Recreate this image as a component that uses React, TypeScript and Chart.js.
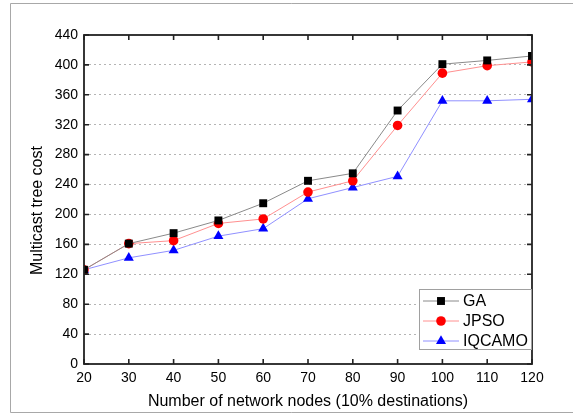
import React, { useEffect, useRef } from "react";
import { Chart, registerables } from "chart.js";

Chart.register(...registerables);

const categories = [20, 30, 40, 50, 60, 70, 80, 90, 100, 110, 120];
const gaValues = [126, 161, 175, 192, 215, 245, 255, 339, 401, 406, 412];
const jpsoValues = [126, 161, 165, 188, 194, 230, 245, 319, 389, 399, 404];
const iqcamoValues = [126, 142, 152, 171, 181, 221, 236, 251, 352, 352, 354];
const yTicks = [0, 40, 80, 120, 160, 200, 240, 280, 320, 360, 400, 440];
const seriesNames = ["GA", "JPSO", "IQCAMO"];
const yTitle = "Multicast tree cost";
const xTitle = "Number of network nodes (10% destinations)";

const FONT = "'Liberation Sans', Arial, sans-serif";

const framePlugin = {
  id: "framePlugin",
  beforeDraw(chart: any) {
    const ctx = chart.ctx;
    ctx.save();
    ctx.fillStyle = "#ffffff";
    ctx.fillRect(0, 0, chart.width, chart.height);
    ctx.strokeStyle = "#a8a8a8";
    ctx.lineWidth = 1;
    ctx.beginPath();
    ctx.moveTo(chart.width, 3.5);
    ctx.lineTo(10.5, 3.5);
    ctx.lineTo(10.5, 412.5);
    ctx.lineTo(chart.width, 412.5);
    ctx.stroke();
    // y axis title
    const { top, bottom } = chart.chartArea;
    ctx.translate(38, (top + bottom) / 2 + 11);
    ctx.rotate(-Math.PI / 2);
    ctx.fillStyle = "#000000";
    ctx.font = `16px ${FONT}`;
    ctx.textAlign = "center";
    ctx.textBaseline = "middle";
    ctx.fillText(yTitle, 0, 0);
    ctx.restore();
  },
  afterDatasetsDraw(chart: any) {
    const ctx = chart.ctx;
    const { left, right, top, bottom } = chart.chartArea;
    const xs = chart.scales.x;
    const ys = chart.scales.y;
    ctx.save();
    ctx.strokeStyle = "#222222";
    ctx.lineWidth = 1.6;
    const tl = 5;
    ctx.beginPath();
    xs.ticks.forEach((t: any) => {
      const px = xs.getPixelForValue(t.value);
      ctx.moveTo(px, bottom);
      ctx.lineTo(px, bottom - tl);
      ctx.moveTo(px, top);
      ctx.lineTo(px, top + tl);
    });
    ys.ticks.forEach((t: any) => {
      const py = ys.getPixelForValue(t.value);
      ctx.moveTo(left, py);
      ctx.lineTo(left + tl, py);
      ctx.moveTo(right, py);
      ctx.lineTo(right - tl, py);
    });
    ctx.stroke();
    ctx.lineWidth = 1.8;
    ctx.strokeRect(left, top, right - left, bottom - top);

    // legend
    const bx = right - 113;
    const by = bottom - 75;
    const bw = 113;
    const bh = 61;
    ctx.fillStyle = "#ffffff";
    ctx.fillRect(bx, by, bw, bh);
    ctx.strokeStyle = "#a0a0a0";
    ctx.lineWidth = 1;
    ctx.strokeRect(bx + 0.5, by + 0.5, bw - 1, bh - 1);
    chart.data.datasets.forEach((ds: any, i: number) => {
      const cy = by + 12 + i * 20;
      ctx.strokeStyle = ds.borderColor;
      ctx.lineWidth = 1;
      ctx.beginPath();
      ctx.moveTo(bx + 4, cy);
      ctx.lineTo(bx + 40, cy);
      ctx.stroke();
      ctx.fillStyle = ds.pointBackgroundColor;
      const st = ds.pointStyle;
      const r = ds.pointRadius;
      ctx.beginPath();
      if (st === "rect") {
        const s = Math.SQRT1_2 * r;
        ctx.rect(bx + 22 - s, cy - s, 2 * s, 2 * s);
      } else if (st === "circle") {
        ctx.arc(bx + 22, cy, r, 0, Math.PI * 2);
      } else {
        const w = r * Math.sin((2 * Math.PI) / 3);
        ctx.moveTo(bx + 22, cy - r);
        ctx.lineTo(bx + 22 + w, cy + r / 2);
        ctx.lineTo(bx + 22 - w, cy + r / 2);
        ctx.closePath();
      }
      ctx.fill();
      ctx.fillStyle = "#000000";
      ctx.font = `16px ${FONT}`;
      ctx.textBaseline = "middle";
      ctx.textAlign = "left";
      ctx.fillText(ds.label, bx + 44, cy + 1);
    });
    ctx.restore();
  },
};

export default function App() {
  const ref = useRef<HTMLCanvasElement | null>(null);
  useEffect(() => {
    if (!ref.current) return;
    const mk = (vals: number[]) => vals.map((v, i) => ({ x: categories[i], y: v }));
    const chart = new Chart(ref.current, {
      type: "line",
      data: {
        datasets: [
          {
            label: seriesNames[0],
            data: mk(gaValues),
            borderColor: "#8a8a8a",
            borderWidth: 1,
            pointStyle: "rect",
            pointRadius: 5.6,
            pointBackgroundColor: "#000000",
            pointBorderColor: "#000000",
            pointBorderWidth: 0,
          },
          {
            label: seriesNames[1],
            data: mk(jpsoValues),
            borderColor: "#ff9090",
            borderWidth: 1,
            pointStyle: "circle",
            pointRadius: 4.8,
            pointBackgroundColor: "#ff0000",
            pointBorderColor: "#ff0000",
            pointBorderWidth: 0,
          },
          {
            label: seriesNames[2],
            data: mk(iqcamoValues),
            borderColor: "#9090ff",
            borderWidth: 1,
            pointStyle: "triangle",
            pointRadius: 5.8,
            pointBackgroundColor: "#0000ff",
            pointBorderColor: "#0000ff",
            pointBorderWidth: 0,
          },
        ],
      },
      options: {
        animation: false,
        responsive: false,
        devicePixelRatio: 1,
        layout: { padding: { left: 0, top: 35, right: 41, bottom: 0 } },
        plugins: { legend: { display: false }, tooltip: { enabled: false } },
        scales: {
          x: {
            type: "linear",
            min: 20,
            max: 120,
            afterFit: (s: any) => {
              s.height = 52;
            },
            afterBuildTicks: (s: any) => {
              s.ticks = categories.map((v) => ({ value: v }));
            },
            grid: { display: false, drawTicks: false },
            border: { display: false },
            ticks: {
              padding: 6,
              color: "#000000",
              font: { family: FONT, size: 14 },
              maxRotation: 0,
            },
            title: {
              display: true,
              text: xTitle,
              color: "#000000",
              font: { family: FONT, size: 16 },
              padding: { top: 0, bottom: 5 },
            },
          },
          y: {
            type: "linear",
            min: 0,
            max: 440,
            afterFit: (s: any) => {
              s.width = 84;
            },
            afterBuildTicks: (s: any) => {
              s.ticks = yTicks.map((v) => ({ value: v }));
            },
            grid: {
              drawTicks: false,
              color: (c: any) =>
                c.tick && (c.tick.value === 0 || c.tick.value === 440) ? "rgba(0,0,0,0)" : "#b4b4b4",
              lineWidth: 1,
            },
            border: { display: false, dash: [2, 3] },
            ticks: {
              padding: 6,
              color: "#000000",
              font: { family: FONT, size: 14 },
            },
            title: { display: false },
          },
        },
      },
      plugins: [framePlugin],
    });
    return () => chart.destroy();
  }, []);
  return (
    <div style={{ position: "fixed", left: 0, top: 0, width: 573, height: 416 }}>
      <canvas ref={ref} width={573} height={416} style={{ width: 573, height: 416 }} />
    </div>
  );
}
